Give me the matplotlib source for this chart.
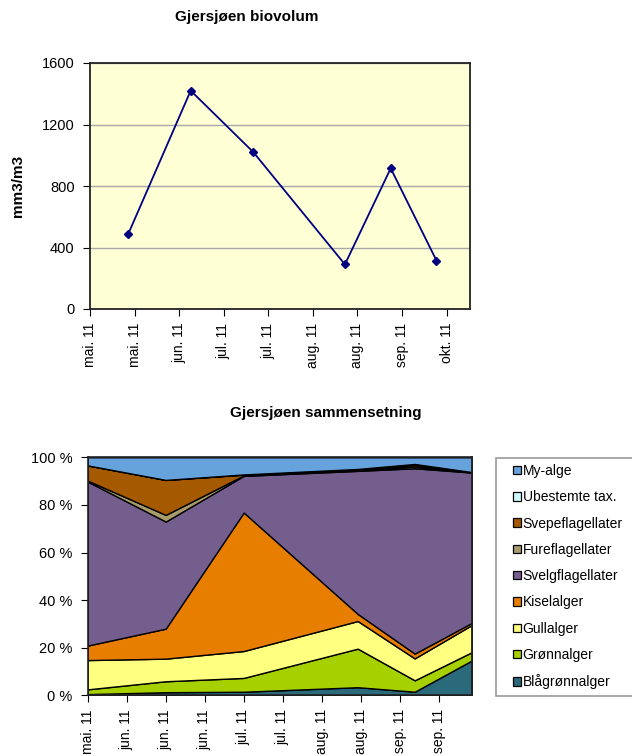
import pandas as pd
import matplotlib
matplotlib.use("Agg")
from matplotlib import pyplot as plt
from matplotlib.patches import Patch, Rectangle

plt.rcParams['font.family'] = ['Liberation Sans', 'DejaVu Sans']

# data
sample_dates = ['2011-05-21', '2011-06-16', '2011-07-12', '2011-08-19', '2011-09-07', '2011-09-26']
biovolum = [485, 1420, 1020, 290, 915, 315]

top_tick_labels = ['mai. 11', 'mai. 11', 'jun. 11', 'jul. 11', 'jul. 11',
                   'aug. 11', 'aug. 11', 'sep. 11', 'okt. 11']
bottom_tick_labels = ['mai. 11', 'jun. 11', 'jun. 11', 'jun. 11', 'jul. 11',
                      'jul. 11', 'aug. 11', 'aug. 11', 'sep. 11', 'sep. 11']

groups = ['Blågrønnalger', 'Grønnalger', 'Gullalger', 'Kiselalger', 'Svelgflagellater',
          'Fureflagellater', 'Svepeflagellater', 'Ubestemte tax.', 'My-alge']
blagronn = [0.5, 1.3, 1.5, 3.4, 1.5, 14.6]
gronn = [2.0, 4.6, 5.8, 16.2, 4.8, 3.5]
gull = [12.3, 9.5, 11.3, 11.6, 9.2, 11.4]
kisel = [6.1, 12.6, 58.2, 3.0, 2.0, 0.9]
svelg = [68.9, 45.0, 15.4, 60.1, 77.9, 63.2]
fure = [0.4, 2.8, 0.2, 0.4, 0.7, 0.1]
svepe = [6.4, 14.7, 0.3, 0.3, 0.7, 0.1]
ubestemte = [0.0, 0.0, 0.1, 0.1, 0.4, 0.0]
my_alge = [3.4, 9.5, 7.2, 4.9, 2.8, 6.2]
colors = ['#2B6A7A', '#A6D000', '#FFFF80', '#E87E00', '#745E8E',
          '#A89C6C', '#A65A00', '#CCFFFF', '#66A3DD']

dates = pd.to_datetime(sample_dates)

fig = plt.figure(figsize=(6.32, 7.56), dpi=100)

# ---- top chart
ax1 = fig.add_axes([90/632, 1-309/756, 380/632, 246/756])
ax1.set_facecolor('#FFFFD6')
ax1.plot(dates, biovolum, color='#000080', marker='D', markersize=4.5, linewidth=1.3)
ax1.set_ylim(0, 1600)
ax1.set_yticks([0, 400, 800, 1200, 1600])
ax1.grid(axis='y', color='#A8A8A8', linewidth=1)
ax1.set_axisbelow(True)
top_start = pd.Timestamp('2011-05-05 05:00')
top_ticks = pd.date_range(top_start, periods=9, freq='444h')
ax1.set_xticks(top_ticks)
ax1.set_xticklabels(top_tick_labels, rotation=90)
ax1.set_xlim(top_start, top_start + pd.Timedelta(days=157.7))
ax1.tick_params(axis='x', labelsize=10, length=5, pad=5, direction='out', color='black')
ax1.tick_params(axis='y', labelsize=10.5, length=5, pad=6, direction='out', color='black')
for s in ax1.spines.values():
    s.set_linewidth(1.3)
    s.set_color('#222222')
ax1.set_ylabel('mm3/m3', fontsize=11, fontweight='bold', labelpad=12)
fig.text(247/632, 1-17/756, 'Gjersjøen biovolum', ha='center', va='center',
         fontsize=11, fontweight='bold')

# ---- bottom chart
ax2 = fig.add_axes([87.7/632, 1-695.3/756, 384/632, 238/756])
layers = [blagronn, gronn, gull, kisel, svelg, fure, svepe, ubestemte, my_alge]
ax2.stackplot(dates, layers, colors=colors, edgecolor='black', linewidth=1)
ax2.set_ylim(0, 100)
ax2.set_yticks([0, 20, 40, 60, 80, 100])
ax2.set_yticklabels(['0 %', '20 %', '40 %', '60 %', '80 %', '100 %'])
bottom_ticks = pd.date_range('2011-05-21', periods=10, freq='13D')
ax2.set_xticks(bottom_ticks)
ax2.set_xticklabels(bottom_tick_labels, rotation=90)
ax2.set_xlim(dates[0], dates[-1])
ax2.tick_params(axis='x', labelsize=10, length=5, pad=5, direction='out', color='black')
ax2.tick_params(axis='y', labelsize=10.5, length=5, pad=6, direction='out', color='black')
for s in ax2.spines.values():
    s.set_linewidth(1.2)
    s.set_color('#222222')
fig.text(326/632, 1-413/756, 'Gjersjøen sammensetning', ha='center', va='center',
         fontsize=11, fontweight='bold')

# legend
fig.patches.append(Rectangle((496/632, 1-696/756), 150/632, 238/756,
                             transform=fig.transFigure, facecolor='white',
                             edgecolor='#999999', linewidth=1.2))
handles = [Patch(facecolor=c, edgecolor='black', linewidth=0.9, label=g)
           for g, c in zip(groups, colors)][::-1]
fig.legend(handles=handles, loc='upper left', bbox_to_anchor=(513/632, 1-464/756),
           frameon=False, fontsize=10, handlelength=0.55, handleheight=0.55,
           handletextpad=0.15, labelspacing=0.885, borderaxespad=0, borderpad=0)

fig.savefig('out.png', dpi=100)
